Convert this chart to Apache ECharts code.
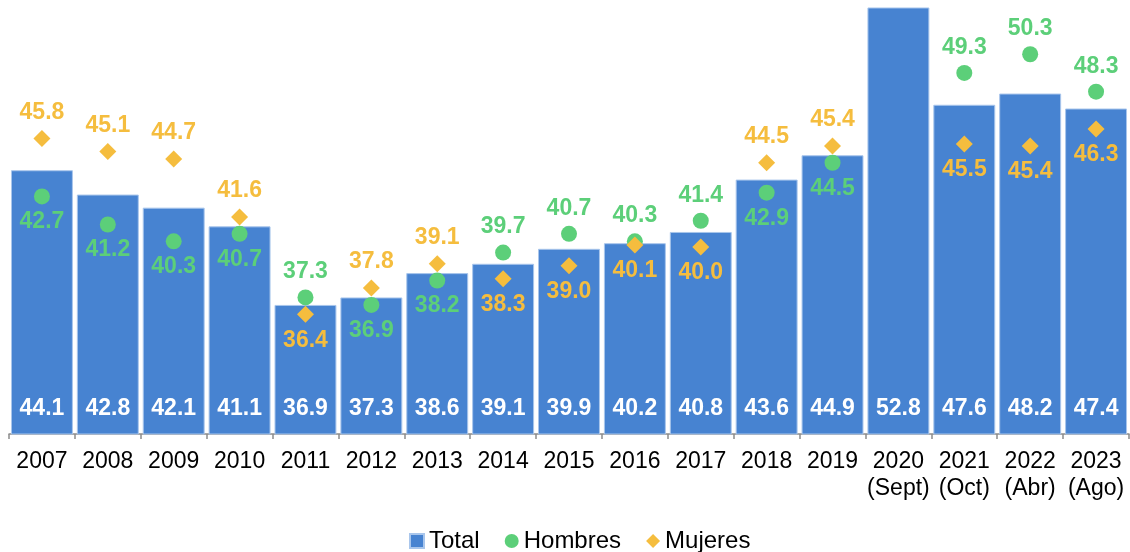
<!DOCTYPE html>
<html>
<head>
<meta charset="utf-8">
<script src="https://cdn.jsdelivr.net/npm/echarts@6/dist/echarts.min.js"></script>
<style>
  html, body { margin: 0; padding: 0; background: #fff; }
  #chart { width: 1130px; height: 552px; }
</style>
</head>
<body>
<div id="chart"></div>
<script>
var years = ['2007','2008','2009','2010','2011','2012','2013','2014','2015','2016','2017','2018','2019','2020\n(Sept)','2021\n(Oct)','2022\n(Abr)','2023\n(Ago)'];
var total = [44.1, 42.8, 42.1, 41.1, 36.9, 37.3, 38.6, 39.1, 39.9, 40.2, 40.8, 43.6, 44.9, 52.8, 47.6, 48.2, 47.4];
var hombres = [42.7, 41.2, 40.3, 40.7, 37.3, 36.9, 38.2, 39.7, 40.7, 40.3, 41.4, 42.9, 44.5, null, 49.3, 50.3, 48.3];
var mujeres = [45.8, 45.1, 44.7, 41.6, 36.4, 37.8, 39.1, 38.3, 39.0, 40.1, 40.0, 44.5, 45.4, null, 45.5, 45.4, 46.3];
// which label goes under its marker (1) or above it (0)
var hombresBelow = [1,1,1,1,0,1,1,0,0,0,0,1,1,0,0,0,0];
var mujeresBelow = [0,0,0,0,1,0,0,1,1,1,1,0,0,0,1,1,1];

function points(vals, below) {
    var arr = [];
    for (var i = 0; i < vals.length; i++) {
        if (vals[i] == null) { arr.push('-'); continue; }
        arr.push({
            value: vals[i],
            label: { position: below[i] ? 'bottom' : 'top' }
        });
    }
    return arr;
}

var green = '#5ccf79';
var yellow = '#f5bd3e';
var blue = '#4783d1';
var font = 'Liberation Sans';

var myChart = echarts.init(document.getElementById('chart'));
var option = {
    animation: false,
    grid: { left: 9, right: 1, top: 0, bottom: 118 },
    legend: {
        bottom: -6,
        left: 404,
        itemWidth: 14,
        itemHeight: 14,
        itemGap: 25,
        textStyle: { fontFamily: font, fontSize: 24, color: '#000' },
        data: [
            { name: 'Total', icon: 'rect' },
            { name: 'Hombres', icon: 'circle' },
            { name: 'Mujeres', icon: 'diamond' }
        ]
    },
    xAxis: {
        type: 'category',
        data: years,
        axisLine: { lineStyle: { color: '#8c8c8c', width: 1.5 } },
        axisTick: { show: true, length: 5, lineStyle: { color: '#8c8c8c', width: 1.5 } },
        axisLabel: {
            interval: 0,
            margin: 14,
            fontFamily: font,
            fontSize: 23,
            lineHeight: 27,
            color: '#000'
        }
    },
    yAxis: {
        type: 'value',
        min: 30,
        max: 53.2,
        show: false,
        splitLine: { show: false }
    },
    series: [
        {
            name: 'Total',
            type: 'bar',
            data: total,
            barCategoryGap: '6%',
            itemStyle: { color: blue, borderColor: '#a9c6ec', borderWidth: 1 },
            label: {
                show: true,
                position: 'insideBottom',
                distance: 14,
                color: '#fff',
                fontFamily: font,
                fontWeight: 'bold',
                fontSize: 23,
                formatter: function (p) { return p.value.toFixed(1); }
            },
            z: 1
        },
        {
            name: 'Hombres',
            type: 'scatter',
            data: points(hombres, hombresBelow),
            symbol: 'circle',
            symbolSize: 16,
            itemStyle: { color: green, opacity: 1 },
            label: {
                show: true,
                distance: 6,
                color: green,
                fontFamily: font,
                fontWeight: 'bold',
                fontSize: 23,
                formatter: function (p) { return p.value.toFixed(1); }
            },
            z: 3
        },
        {
            name: 'Mujeres',
            type: 'scatter',
            data: points(mujeres, mujeresBelow),
            symbol: 'diamond',
            symbolSize: 17,
            itemStyle: { color: yellow, opacity: 1 },
            label: {
                show: true,
                distance: 6,
                color: yellow,
                fontFamily: font,
                fontWeight: 'bold',
                fontSize: 23,
                formatter: function (p) { return p.value.toFixed(1); }
            },
            z: 4
        }
    ]
};
myChart.setOption(option);
</script>
</body>
</html>
